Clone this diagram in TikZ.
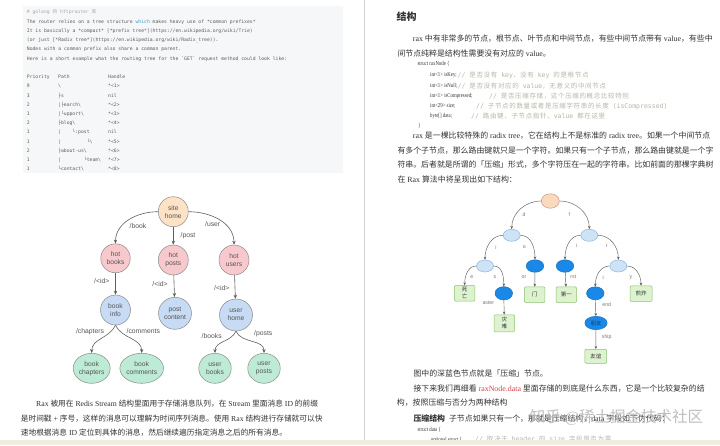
\documentclass[tikz,border=0pt]{standalone}
\usepackage{fontspec}
\setmainfont{Liberation Serif}
\setsansfont{Liberation Sans}
\setmonofont{DejaVu Sans Mono}
\newfontfamily\cjkmain{Noto Sans CJK SC}
\newfontfamily\cjkwide{Noto Sans CJK SC}[LetterSpace=10]
\newfontfamily\codefont{Liberation Serif}[FakeStretch=0.8]
\usetikzlibrary{arrows.meta,shapes.geometric}

% automatic switch to the CJK font for CJK characters
\XeTeXinterchartokenstate=1
\chardef\cjkclass=10
\newcount\cjkc
\def\setcjkrange#1#2{\cjkc=#1\relax\loop\XeTeXcharclass\cjkc=\cjkclass\advance\cjkc by 1\relax\ifnum\cjkc<#2\relax\repeat}
\setcjkrange{"3000}{"3040}
\setcjkrange{"4E00}{"A000}
\setcjkrange{"FF00}{"FF60}
\def\cjkfont{\cjkmain}
\def\latinsel{\rmfamily}
\XeTeXinterchartoks 0 \cjkclass = {\cjkfont}
\XeTeXinterchartoks 4095 \cjkclass = {\cjkfont}
\XeTeXinterchartoks \cjkclass 0 = {\latinsel}
\XeTeXinterchartoks \cjkclass 4095 = {\latinsel}

\definecolor{peachc}{HTML}{FDE3C5}
\definecolor{pinkc}{HTML}{F8C9CC}
\definecolor{bluec}{HTML}{C7DBF4}
\definecolor{mintc}{HTML}{BDEBD6}
\definecolor{treeline}{HTML}{8A8A8A}
\definecolor{treetext}{HTML}{555555}
\definecolor{edgec}{HTML}{5F5F5F}
\definecolor{codebg}{HTML}{F6F7F8}
\definecolor{codetext}{HTML}{5E5E5E}
\definecolor{codecmt}{HTML}{ABABAB}
\definecolor{whichc}{HTML}{3D9CC4}
\definecolor{bodytext}{HTML}{333333}
\definecolor{cmtc}{HTML}{B4B8A6}
\definecolor{redc}{HTML}{D9434F}
\definecolor{rpeach}{HTML}{FBD9BD}
\definecolor{rpeachline}{HTML}{C09A86}
\definecolor{rlight}{HTML}{CFE3F7}
\definecolor{rlightline}{HTML}{8DB4DE}
\definecolor{rdark}{HTML}{1A88E6}
\definecolor{rdarkline}{HTML}{1670C2}
\definecolor{rgreen}{HTML}{DDF3D0}
\definecolor{rgreenline}{HTML}{8CC270}
\definecolor{rlabc}{HTML}{777777}
\definecolor{stripc}{HTML}{F0ECE0}
\definecolor{borderc}{HTML}{D2D2D2}

\tikzset{
  cline/.style={inner sep=0pt, anchor=base west, text=codetext,
    font=\ttfamily\fontsize{4.75}{5}\selectfont\def\latinsel{\ttfamily}},
  tn/.style={ellipse, draw=treeline, line width=0.5pt, inner sep=0pt, align=center,
    text=treetext, font=\sffamily\fontsize{6.7}{8}\selectfont},
  tlab/.style={inner sep=0pt, text=treetext, font=\sffamily\fontsize{6.8}{8}\selectfont},
  tedge/.style={draw=edgec, line width=0.6pt, -{Stealth[length=4pt,width=3.4pt]}},
  rn/.style={ellipse, inner sep=0pt, line width=0.5pt},
  rroot/.style={rn, fill=rpeach, draw=rpeachline, minimum width=18pt, minimum height=14.5pt},
  rlt/.style={rn, fill=rlight, draw=rlightline, minimum width=17pt, minimum height=12pt},
  rdk/.style={rn, fill=rdark, draw=rdarkline, minimum width=17.5pt, minimum height=12.5pt},
  rbox/.style={rectangle, fill=rgreen, draw=rgreenline, line width=0.5pt, rounded corners=1pt,
    minimum width=20.5pt, minimum height=15.5pt, inner sep=0pt, align=center,
    text=bodytext, font=\fontsize{5.5}{7}\selectfont},
  rlab/.style={inner sep=0pt, text=rlabc, font=\sffamily\fontsize{5.2}{6}\selectfont},
  redge/.style={draw=edgec, line width=0.45pt, -{Stealth[length=3pt,width=2.6pt]}},
  body/.style={inner sep=0pt, anchor=base west, text=bodytext, font=\fontsize{7.9}{9}\selectfont},
  lbody/.style={body, font=\fontsize{7.7}{9}\selectfont},
  code/.style={inner sep=0pt, anchor=base west, text=bodytext,
    font=\codefont\fontsize{6}{7}\selectfont\def\latinsel{\codefont}},
  cmt/.style={inner sep=0pt, anchor=base west, text=cmtc,
    font=\ttfamily\fontsize{6.5}{7}\selectfont\def\latinsel{\ttfamily}\def\cjkfont{\cjkwide}},
}

\begin{document}
\begin{tikzpicture}[x=1pt,y=-1pt]
\useasboundingbox (0,0) rectangle (720,445);
\fill[white] (0,0) rectangle (720,445);

% ================= LEFT PAGE =================
\fill[codebg] (23,6) rectangle (343,173);
\node[cline,text=codecmt] (c0) at (26.7,13.8) {\# golang 的 httprouter 库};
\node[cline] (c1) at (26.7,23.5) {The router relies on a tree structure {\color{whichc}which} makes heavy use of *common prefixes*};
\node[cline] (c2) at (26.7,32.5) {It is basically a *compact* [*prefix tree*](https://en.wikipedia.org/wiki/Trie)};
\node[cline] (c3) at (26.7,41.8) {(or just [*Radix tree*](https://en.wikipedia.org/wiki/Radix\_tree)).};
\node[cline] (c4) at (26.7,50.8) {Nodes with a common prefix also share a common parent.};
\node[cline] (c5) at (26.7,60.2) {Here is a short example what the routing tree for the \textasciigrave{}GET\textasciigrave{} request method could look like:};
\node[cline] (hpri) at (26.7,78.8) {Priority};
\node[cline] (hpath) at (58,78.8) {Path};
\node[cline] (hhand) at (108,78.8) {Handle};
\foreach \p/\q/\h [count=\i from 0] in {
  9/\textbackslash/*<1>,
  3/├s/nil,
  2/|├earch\textbackslash/*<2>,
  1/|└upport\textbackslash/*<3>,
  2/├blog\textbackslash/*<4>,
  1/|~~~~└:post/nil,
  1/|~~~~~~~~~└\textbackslash/*<5>,
  2/├about-us\textbackslash/*<6>,
  1/|~~~~~~~~└team\textbackslash/*<7>,
  1/└contact\textbackslash/*<8>}{
  \node[cline] (rp\i) at (26.7,87.8+9.2*\i) {\p};
  \node[cline] (rq\i) at (58,87.8+9.2*\i) {\q};
  \node[cline] (rh\i) at (108,87.8+9.2*\i) {\h};
}

% routing tree
\node[tn,fill=peachc,minimum width=30pt,minimum height=30pt] (site) at (173.3,211.7) {site\\home};
\node[tn,fill=pinkc,minimum width=29.5pt,minimum height=29pt] (hb) at (115.5,258.3) {hot\\books};
\node[tn,fill=pinkc,minimum width=30pt,minimum height=30pt] (hp) at (173.3,260) {hot\\posts};
\node[tn,fill=pinkc,minimum width=30pt,minimum height=30pt] (hu) at (234,260) {hot\\users};
\node[tn,fill=bluec,minimum width=30pt,minimum height=30pt] (bi) at (115.5,310) {book\\info};
\node[tn,fill=bluec,minimum width=33pt,minimum height=32pt] (pc) at (175,313.3) {post\\content};
\node[tn,fill=bluec,minimum width=33pt,minimum height=32pt] (uh) at (236,315) {user\\home};
\node[tn,fill=mintc,minimum width=37pt,minimum height=30pt] (bc) at (91.7,368.3) {book\\chapters};
\node[tn,fill=mintc,minimum width=41.5pt,minimum height=30pt] (bcm) at (141.7,368.3) {book\\comments};
\node[tn,fill=mintc,minimum width=32.5pt,minimum height=30pt] (ub) at (215,368.3) {user\\books};
\node[tn,fill=mintc,minimum width=32.5pt,minimum height=30pt] (up) at (264,368.3) {user\\posts};

\draw[tedge] (site) to[out=180,in=90] (hb);
\draw[tedge] (site) -- (hp);
\draw[tedge] (site) to[out=0,in=90] (hu);
\draw[tedge] (hb) -- (bi);
\draw[tedge] (hp) -- (pc);
\draw[tedge] (hu) -- (uh);
\draw[tedge] (bi.south) to[out=-115,in=90] (bc.north);
\draw[tedge] (bi.south) to[out=-65,in=90] (bcm.north);
\draw[tedge] (uh.south) to[out=-115,in=90] (ub.north);
\draw[tedge] (uh.south) to[out=-65,in=90] (up.north);

\node[tlab] (lbook) at (138,226) {/book};
\node[tlab] (lpost) at (188,235.7) {/post};
\node[tlab] (luser) at (212.7,224.3) {/user};
\node[tlab] (lid1) at (101.7,280.7) {/<id>};
\node[tlab] (lid2) at (160,284.3) {/<id>};
\node[tlab] (lid3) at (221.7,287.7) {/<id>};
\node[tlab] (lchap) at (90,331.7) {/chapters};
\node[tlab] (lcom) at (143.3,331) {/comments};
\node[tlab] (lbooks) at (211.7,335.7) {/books};
\node[tlab] (lposts) at (263.3,333.3) {/posts};

\node[lbody] (lp1) at (36,406) {Rax 被用在 Redis Stream 结构里面用于存储消息队列，在 Stream 里面消息 ID 的前缀};
\node[lbody] (lp2) at (20.7,421.7) {是时间戳 + 序号，这样的消息可以理解为时间序列消息。使用 Rax 结构进行存储就可以快};
\node[lbody] (lp3) at (20.7,435.4) {速地根据消息 ID 定位到具体的消息，然后继续遍历指定消息之后的所有消息。};

% ================= RIGHT PAGE =================
\draw[borderc,line width=0.8pt] (364,0) -- (364,440);
\node[inner sep=0pt,text=bodytext,font=\bfseries\fontsize{10}{12}\selectfont] (head) at (406.7,16.7) {结构};
\node[body] (p1a) at (412.7,41.7) {rax 中有非常多的节点，根节点、叶节点和中间节点，有些中间节点带有 value，有些中};
\node[body] (p1b) at (397.3,56) {间节点纯粹是结构性需要没有对应的 value。};

\node[code] (s0) at (417.3,65.3) {struct raxNode \{};
\node[code] (s1) at (430,76.9) {int<1> isKey;};
\node[code] (s2) at (430,87.6) {int<1> isNull;};
\node[code] (s3) at (430,97.6) {int<1> isCompressed;};
\node[code] (s4) at (430,107.6) {int<29> size;};
\node[code] (s5) at (430,117.9) {byte[] data;};
\node[code] (s6) at (418,127.9) {\}};
\node[cmt] (m1) at (457.5,77.3) {// 是否没有 key，没有 key 的是根节点};
\node[cmt] (m2) at (457.5,88) {// 是否没有对应的 value，无意义的中间节点};
\node[cmt] (m3) at (489,98) {// 是否压缩存储，这个压缩的概念比较特别};
\node[cmt] (m4) at (476,108) {// 子节点的数量或者是压缩字符串的长度 (isCompressed)};
\node[cmt] (m5) at (471,118.3) {// 路由键、子节点指针、value 都在这里};

\node[body] (p2a) at (412.7,138.7) {rax 是一棵比较特殊的 radix tree，它在结构上不是标准的 radix tree。如果一个中间节点};
\node[body] (p2b) at (397.3,153.7) {有多个子节点，那么路由键就只是一个字符。如果只有一个子节点，那么路由键就是一个字};
\node[body] (p2c) at (397.3,167.7) {符串。后者就是所谓的「压缩」形式，多个字符压在一起的字符串。比如前面的那棵字典树};
\node[body] (p2d) at (397.3,182.7) {在 Rax 算法中将呈现出如下结构：};

% radix tree
\node[rroot] (r0) at (550.3,201) {};
\node[rlt] (r1) at (511.7,235.3) {};
\node[rlt] (r2) at (589.3,235.3) {};
\node[rlt] (r3) at (485,266) {};
\node[rdk] (r4) at (535,266) {};
\node[rdk] (r5) at (565,266) {};
\node[rlt] (r6) at (618.3,266) {};
\node[rbox] (b1) at (464.7,293.3) {死\\亡};
\node[rdk,minimum height=13.3pt] (r7) at (503.8,293.3) {};
\node[rbox] (b2) at (534.7,294.7) {门};
\node[rbox] (b3) at (566.3,294.7) {第一};
\node[rdk,minimum height=13pt] (r8) at (595.3,293.3) {};
\node[rbox,minimum width=22pt] (b4) at (641,293.7) {煎炸};
\node[rbox,minimum height=17pt] (b5) at (504.3,323.3) {灾\\难};
\node[rdk,minimum width=22.3pt,minimum height=13.3pt,text=rdarkline!60!black,font=\fontsize{5.5}{6}\selectfont] (r9) at (596,323) {朋友};
\node[rbox,minimum width=21.7pt,minimum height=14pt] (b6) at (595.8,356.3) {友谊};

\draw[redge] (r0) to[out=180,in=90] (r1);
\draw[redge] (r0) to[out=0,in=90] (r2);
\draw[redge] (r1) to[out=180,in=90] (r3);
\draw[redge] (r1) to[out=0,in=90] (r4);
\draw[redge] (r2) to[out=180,in=90] (r5);
\draw[redge] (r2) to[out=0,in=90] (r6);
\draw[redge] (r3) to[out=180,in=90] (b1);
\draw[redge] (r3) to[out=0,in=90] (r7);
\draw[redge] (r4) -- (b2);
\draw[redge] (r5) -- (b3);
\draw[redge] (r6) to[out=180,in=90] (r8);
\draw[redge] (r6) to[out=0,in=90] (b4);
\draw[redge] (r7) -- (b5);
\draw[redge] (r8) -- (r9);
\draw[redge] (r9) -- (b6);

\node[rlab] (ld) at (524,215) {d};
\node[rlab] (lf) at (569.3,215) {f};
\node[rlab] (li1) at (496,247.3) {i};
\node[rlab] (lo) at (524.3,247.3) {o};
\node[rlab] (li2) at (576.7,246) {i};
\node[rlab] (lr) at (606.7,246) {r};
\node[rlab] (le) at (471.7,277.3) {e};
\node[rlab] (ls) at (495,277.3) {s};
\node[rlab] (lor) at (524,277.3) {or};
\node[rlab] (lrst) at (573.3,277.3) {rst};
\node[rlab] (li3) at (603.3,277.3) {i};
\node[rlab] (ly) at (631,277.3) {y};
\node[rlab] (last) at (488.3,303.3) {aster};
\node[rlab] (lend) at (606.7,304.3) {end};
\node[rlab] (lship) at (606.7,337.3) {ship};

% text below the radix tree
\node[body] (p3) at (413.3,376) {图中的深蓝色节点就是「压缩」节点。};
\node[body] (p4a) at (413.3,391) {接下来我们再细看 {\color{redc}raxNode.data} 里面存储的到底是什么东西，它是一个比较复杂的结};
\node[body] (p4b) at (396.7,405.4) {构，按照压缩与否分为两种结构};
\node[body] (p5) at (413.3,421.7) {{\bfseries 压缩结构}\ \ 子节点如果只有一个，那就是压缩结构，data 字段如下伪代码：};
\node[code] (d0) at (417.3,431) {struct data \{};
\node[code] (d1) at (430.7,441) {optional struct \{};
\node[cmt] (dm1) at (475,441) {// 取决于 header 的 size 字段是否为零};

\node[inner sep=0pt,text=black!28,opacity=0.9,font=\fontsize{15.5}{16}\selectfont] (wm) at (616.5,417) {知乎 @稀土掘金技术社区};

% bottom strip
\fill[stripc] (0,439.5) rectangle (720,445);
\end{tikzpicture}
\end{document}
